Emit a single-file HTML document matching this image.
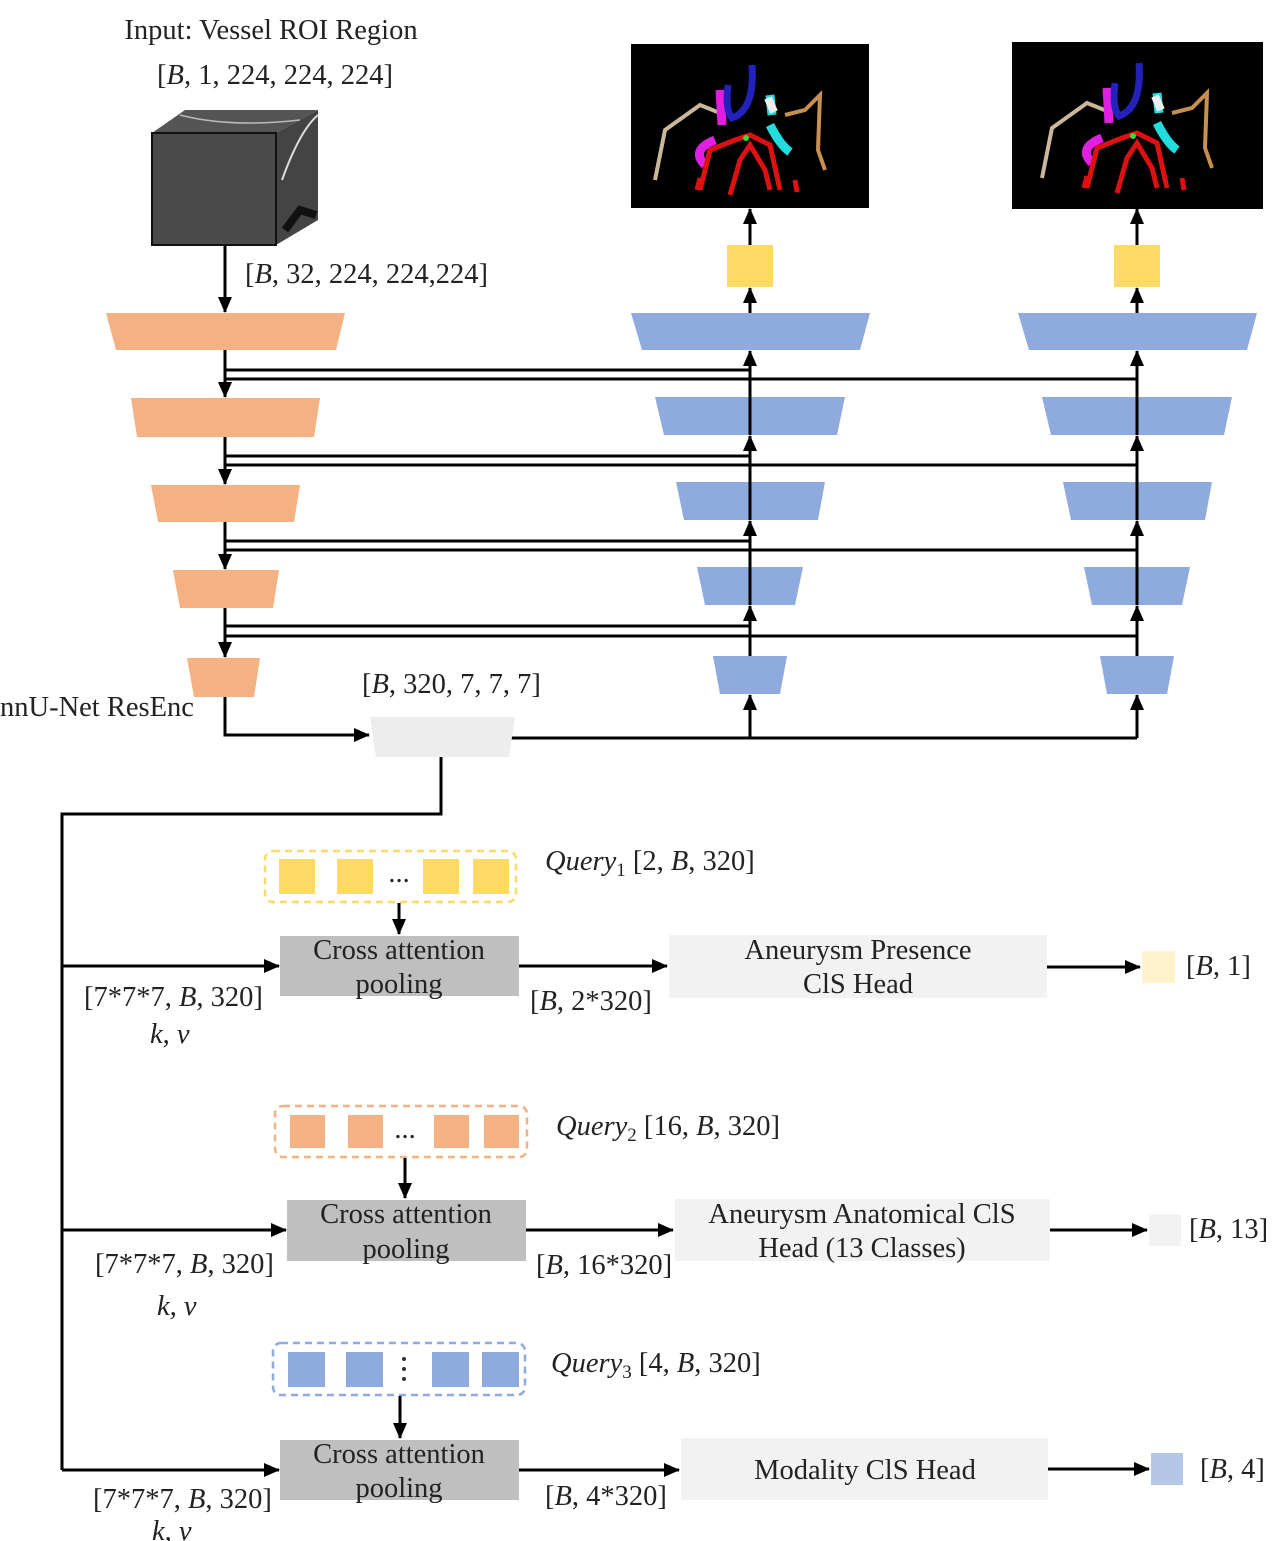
<!DOCTYPE html>
<html><head><meta charset="utf-8"><style>
html,body{margin:0;padding:0;background:#fff;}
svg{display:block;font-family:"Liberation Serif",serif;}
text{font-size:28.5px;fill:#222;}
</style></head><body>
<svg width="1280" height="1541" viewBox="0 0 1280 1541" xmlns="http://www.w3.org/2000/svg">
<defs>
<marker id="b" markerWidth="16" markerHeight="14" refX="15" refY="7" orient="auto" markerUnits="userSpaceOnUse">
<path d="M0,0 L16,7 L0,14 Z" fill="#000"/></marker>
</defs>

<text x="271" y="39" text-anchor="middle">Input: Vessel ROI Region</text>
<text x="275" y="84" text-anchor="middle">[<tspan font-style="italic">B</tspan>,  1, 224, 224, 224]</text>

<polygon points="152,133 185,110 318,110 276,133" fill="#555"/>
<polygon points="276,133 318,110 318,220 276,245" fill="#444"/>
<rect x="152" y="133" width="124" height="112" fill="#4a4a4a" stroke="#111" stroke-width="2"/>
<path d="M282,180 Q300,130 318,115" stroke="#ddd" stroke-width="2" fill="none"/>
<path d="M285,230 L300,210 L316,215" stroke="#111" stroke-width="8" fill="none"/>
<path d="M180,115 Q230,128 300,120" stroke="#bbb" stroke-width="1.5" fill="none"/>

<text x="245" y="283">[<tspan font-style="italic">B</tspan>, 32, 224, 224,224]</text>
<line x1="225" y1="246" x2="225" y2="312" stroke="#000" stroke-width="3" marker-end="url(#b)"/>

<g fill="#F4B183">
<polygon points="106,313 345,313 336,350 116,350"/>
<polygon points="131,398 320,398 314,437 137,437"/>
<polygon points="151,485 300,485 294,522 158,522"/>
<polygon points="173,570 279,570 273,608 180,608"/>
<polygon points="187,658 260,658 254,697 194,697"/>
</g>
<g stroke="#000" stroke-width="3" fill="none">
<line x1="225" y1="350" x2="225" y2="397" marker-end="url(#b)"/>
<line x1="225" y1="437" x2="225" y2="484" marker-end="url(#b)"/>
<line x1="225" y1="522" x2="225" y2="569" marker-end="url(#b)"/>
<line x1="225" y1="608" x2="225" y2="657" marker-end="url(#b)"/>
<line x1="225" y1="370" x2="750" y2="370"/><line x1="225" y1="379" x2="1137" y2="379"/>
<line x1="225" y1="456" x2="750" y2="456"/><line x1="225" y1="465" x2="1137" y2="465"/>
<line x1="225" y1="541" x2="750" y2="541"/><line x1="225" y1="550" x2="1137" y2="550"/>
<line x1="225" y1="626" x2="750" y2="626"/><line x1="225" y1="636" x2="1137" y2="636"/>
<polyline points="225,697 225,735 369,735" marker-end="url(#b)"/>
<line x1="505" y1="738" x2="1137" y2="738"/>
<line x1="750" y1="738" x2="750" y2="695" marker-end="url(#b)"/>
<line x1="1137" y1="738" x2="1137" y2="695" marker-end="url(#b)"/>
<polyline points="441,757 441,814 62,814 62,1470"/>
</g>
<polygon points="370,717 515,717 509,757 376,757" fill="#EDEDED"/>
<text x="0" y="716">nnU-Net ResEnc</text>
<text x="362" y="693">[<tspan font-style="italic">B</tspan>, 320, 7, 7, 7]</text>

<g id="dec">
<g fill="#8FAADC">
<polygon points="631,313 870,313 860,350 642,350"/>
<polygon points="655,397 845,397 837,435 664,435"/>
<polygon points="676,482 825,482 818,520 684,520"/>
<polygon points="697,567 803,567 795,605 705,605"/>
<polygon points="713,656 787,656 780,694 720,694"/>
</g>
<g stroke="#000" stroke-width="3">
<line x1="750" y1="435" x2="750" y2="351" marker-end="url(#b)"/>
<line x1="750" y1="520" x2="750" y2="436" marker-end="url(#b)"/>
<line x1="750" y1="605" x2="750" y2="521" marker-end="url(#b)"/>
<line x1="750" y1="656" x2="750" y2="606" marker-end="url(#b)"/>
<line x1="750" y1="313" x2="750" y2="288" marker-end="url(#b)"/>
<line x1="750" y1="245" x2="750" y2="209" marker-end="url(#b)"/>
</g>
<rect x="727" y="245" width="46" height="42" fill="#FFD966"/>
</g>
<use href="#dec" transform="translate(387,0)"/>

<rect x="631" y="44" width="238" height="164" fill="#000"/>
<rect x="1012" y="42" width="251" height="167" fill="#000"/>
<g id="ves">
<path d="M655,180 L665,130 L700,105 L725,115" stroke="#cbb89a" stroke-width="4" fill="none"/>
<path d="M720,90 L722,125 M715,140 Q690,150 705,165" stroke="#e020e0" stroke-width="9" fill="none"/>
<path d="M728,85 Q725,110 732,118 Q755,110 752,65" stroke="#2222bb" stroke-width="7" fill="none"/>
<path d="M770,95 L772,115 M770,125 Q780,145 790,152" stroke="#22dddd" stroke-width="9" fill="none"/>
<path d="M768,98 L774,112" stroke="#eee" stroke-width="8"/>
<path d="M785,115 L805,110 L820,95 L818,150 L825,170" stroke="#c89050" stroke-width="4" fill="none"/>
<path d="M700,190 L710,150 L735,140 L750,135 L770,145 L780,190 M730,195 L740,160 L750,145 L765,170 L770,190 M700,178 L697,190 M795,180 L797,192" stroke="#dd1111" stroke-width="5" fill="none"/>
<circle cx="746" cy="138" r="3" fill="#33dd33"/>
</g>
<use href="#ves" transform="translate(387,-2)"/>

<rect x="265" y="851" width="251" height="51" rx="8" fill="none" stroke="#FFD966" stroke-width="2.5" stroke-dasharray="7,5"/>
<g fill="#FFD966"><rect x="279" y="859" width="36" height="35"/><rect x="337" y="859" width="36" height="35"/><rect x="423" y="859" width="36" height="35"/><rect x="473" y="859" width="36" height="35"/></g>
<text x="399" y="882" text-anchor="middle">...</text>
<text x="545" y="870"><tspan font-style="italic">Query</tspan><tspan font-size="19" dy="6">1</tspan><tspan dy="-6">  [2, </tspan><tspan font-style="italic">B</tspan>, 320]</text>
<rect x="280" y="936" width="239" height="60" fill="#BFBFBF"/>
<text x="399" y="959" text-anchor="middle">Cross attention</text>
<text x="399" y="993" text-anchor="middle">pooling</text>
<rect x="669" y="935" width="378" height="63" fill="#F2F2F2"/>
<text x="858" y="959" text-anchor="middle">Aneurysm Presence</text>
<text x="858" y="993" text-anchor="middle">ClS Head</text>
<rect x="1142" y="951" width="33" height="32" fill="#FFF2CC"/>
<text x="1186" y="975">[<tspan font-style="italic">B</tspan>, 1]</text>
<text x="84" y="1006">[7*7*7, <tspan font-style="italic">B</tspan>, 320]</text>
<text x="150" y="1043" font-style="italic">k, v</text>
<text x="530" y="1010">[<tspan font-style="italic">B</tspan>, 2*320]</text>

<rect x="275" y="1106" width="252" height="51" rx="8" fill="none" stroke="#F4B183" stroke-width="2.5" stroke-dasharray="7,5"/>
<g fill="#F4B183"><rect x="290" y="1115" width="35" height="33"/><rect x="348" y="1115" width="35" height="33"/><rect x="434" y="1115" width="35" height="33"/><rect x="484" y="1115" width="35" height="33"/></g>
<text x="405" y="1138" text-anchor="middle">...</text>
<text x="556" y="1135"><tspan font-style="italic">Query</tspan><tspan font-size="19" dy="6">2</tspan><tspan dy="-6"> [16, </tspan><tspan font-style="italic">B</tspan>, 320]</text>
<rect x="287" y="1200" width="239" height="61" fill="#BFBFBF"/>
<text x="406" y="1223" text-anchor="middle">Cross attention</text>
<text x="406" y="1258" text-anchor="middle">pooling</text>
<rect x="675" y="1199" width="375" height="62" fill="#F2F2F2"/>
<text x="862" y="1223" text-anchor="middle">Aneurysm Anatomical ClS</text>
<text x="862" y="1257" text-anchor="middle">Head (13 Classes)</text>
<rect x="1149" y="1214" width="32" height="32" fill="#F2F2F2"/>
<text x="1189" y="1238">[<tspan font-style="italic">B</tspan>, 13]</text>
<text x="95" y="1273">[7*7*7, <tspan font-style="italic">B</tspan>, 320]</text>
<text x="157" y="1315" font-style="italic">k, v</text>
<text x="536" y="1274">[<tspan font-style="italic">B</tspan>, 16*320]</text>

<rect x="273" y="1343" width="252" height="52" rx="8" fill="none" stroke="#8FAADC" stroke-width="2.5" stroke-dasharray="7,5"/>
<g fill="#8FAADC"><rect x="288" y="1352" width="37" height="35"/><rect x="346" y="1352" width="37" height="35"/><rect x="432" y="1352" width="37" height="35"/><rect x="482" y="1352" width="37" height="35"/></g>
<g fill="#333"><circle cx="404" cy="1359" r="2"/><circle cx="404" cy="1369" r="2"/><circle cx="404" cy="1379" r="2"/></g>
<text x="551" y="1372"><tspan font-style="italic">Query</tspan><tspan font-size="19" dy="6">3</tspan><tspan dy="-6">  [4, </tspan><tspan font-style="italic">B</tspan>, 320]</text>
<rect x="280" y="1440" width="239" height="60" fill="#BFBFBF"/>
<text x="399" y="1463" text-anchor="middle">Cross attention</text>
<text x="399" y="1497" text-anchor="middle">pooling</text>
<rect x="681" y="1438" width="367" height="62" fill="#F2F2F2"/>
<text x="865" y="1479" text-anchor="middle">Modality ClS Head</text>
<rect x="1151" y="1453" width="32" height="32" fill="#B4C7E7"/>
<text x="1200" y="1478">[<tspan font-style="italic">B</tspan>, 4]</text>
<text x="93" y="1508">[7*7*7, <tspan font-style="italic">B</tspan>, 320]</text>
<text x="152" y="1540" font-style="italic">k, v</text>
<text x="545" y="1505">[<tspan font-style="italic">B</tspan>, 4*320]</text>

<g stroke="#000" stroke-width="3">
<line x1="399" y1="903" x2="399" y2="934" marker-end="url(#b)"/>
<line x1="62" y1="966" x2="279" y2="966" marker-end="url(#b)"/>
<line x1="519" y1="966" x2="667" y2="966" marker-end="url(#b)"/>
<line x1="1047" y1="967" x2="1140" y2="967" marker-end="url(#b)"/>
<line x1="405" y1="1158" x2="405" y2="1198" marker-end="url(#b)"/>
<line x1="62" y1="1230" x2="286" y2="1230" marker-end="url(#b)"/>
<line x1="526" y1="1230" x2="673" y2="1230" marker-end="url(#b)"/>
<line x1="1050" y1="1230" x2="1147" y2="1230" marker-end="url(#b)"/>
<line x1="400" y1="1396" x2="400" y2="1438" marker-end="url(#b)"/>
<line x1="62" y1="1470" x2="279" y2="1470" marker-end="url(#b)"/>
<line x1="519" y1="1470" x2="679" y2="1470" marker-end="url(#b)"/>
<line x1="1048" y1="1469" x2="1149" y2="1469" marker-end="url(#b)"/>
</g>
</svg>
</body></html>
